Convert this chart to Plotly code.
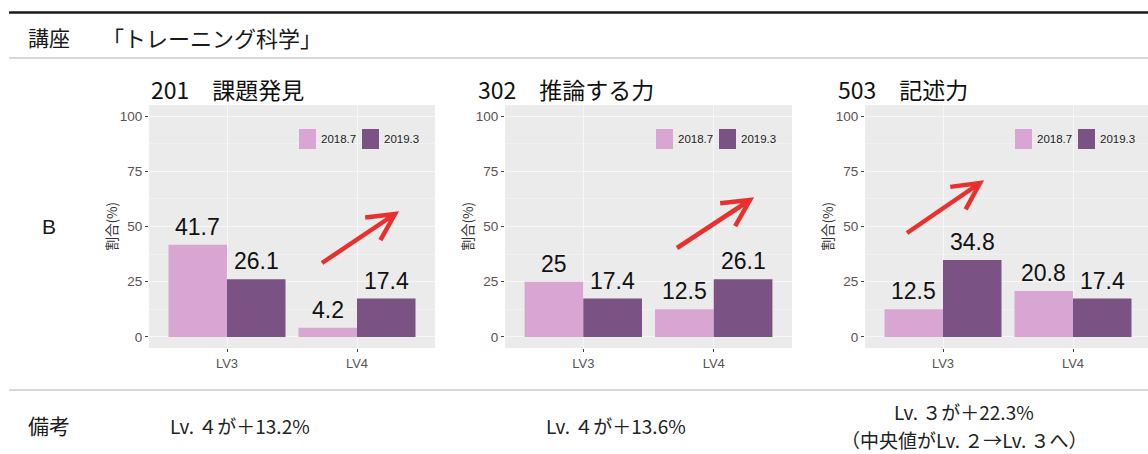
import math
import plotly.graph_objects as go

W, H = 1148, 454

# ---- data -------------------------------------------------------------
levels = ["LV3", "LV4"]
series_names = ["2018.7", "2019.3"]
panel_titles = ["201　課題発見", "302　推論する力", "503　記述力"]

kadai_2018_7 = [41.7, 4.2]
kadai_2019_3 = [26.1, 17.4]
suiron_2018_7 = [25, 12.5]
suiron_2019_3 = [17.4, 26.1]
kijutsu_2018_7 = [12.5, 20.8]
kijutsu_2019_3 = [34.8, 17.4]

header_label = "講座"
course_name = "「トレーニング科学」"
row_label = "B"
notes_label = "備考"
notes = [
    ["Lv. ４が＋13.2%"],
    ["Lv. ４が＋13.6%"],
    ["Lv. ３が＋22.3%", "（中央値がLv. ２→Lv. ３へ）"],
]

# ---- styling ----------------------------------------------------------
colors = ["#d9a6d3", "#7a5283"]
panel_bg = "#ebebeb"
arrow_color = "#e8312f"
latin = "Liberation Sans, Arial, sans-serif"
cjk = "Noto Sans CJK JP, sans-serif"

# panel pixel boxes (left, right) and common vertical extent
panel_px = [(149, 435), (505, 792), (865, 1151)]
top_px, bottom_px = 105, 348
title_left_px = [149, 476, 836]
note_center_px = [240, 616, 964]
arrows_px = [((322, 263), (395, 214)),
             ((677, 248), (750, 200)),
             ((907, 233), (980, 183))]


def fx(px):
    return px / W


def fy(py):
    return 1 - py / H


panel_data = [
    (kadai_2018_7, kadai_2019_3),
    (suiron_2018_7, suiron_2019_3),
    (kijutsu_2018_7, kijutsu_2019_3),
]

fig = go.Figure()
annotations = []
shapes = []

bar_w = 0.45
cat_pos = [i + 1 for i in range(len(levels))]

for p, (vals_a, vals_b) in enumerate(panel_data):
    n = "" if p == 0 else str(p + 1)
    xa, ya = "x" + n, "y" + n
    left, right = panel_px[p]
    vis_right = min(right, W)
    x_lo, x_hi = 0.4, 2.6
    x_hi_vis = x_lo + (x_hi - x_lo) * (vis_right - left) / (right - left)

    for s, vals in enumerate((vals_a, vals_b)):
        xs = [c + (s - 0.5) * bar_w for c in cat_pos]
        fig.add_trace(go.Bar(
            x=xs, y=vals, width=bar_w, name=series_names[s],
            marker=dict(color=colors[s], line=dict(width=0)),
            xaxis=xa, yaxis=ya, showlegend=False, hoverinfo="skip",
        ))
        for xv, v in zip(xs, vals):
            annotations.append(dict(
                x=xv, y=v, xref=xa, yref=ya, text=f"{v:g}",
                showarrow=False, yanchor="bottom", yshift=3,
                font=dict(family=latin, size=23, color="#111111"),
            ))

    axis_key = "xaxis" + n
    yaxis_key = "yaxis" + n
    fig.update_layout(**{
        axis_key: dict(
            domain=[fx(left), fx(vis_right)], range=[x_lo, x_hi_vis],
            anchor=ya, tickvals=cat_pos, ticktext=levels,
            ticks="outside", ticklen=3, tickcolor="#444444", tickwidth=1,
            tickfont=dict(family=latin, size=13, color="#555555"),
            showgrid=True, gridcolor="#f7f7f7", gridwidth=1.4,
            zeroline=False, showline=False, fixedrange=True,
        ),
        yaxis_key: dict(
            domain=[fy(bottom_px), fy(top_px)], range=[-5, 105],
            anchor=xa, tickvals=[0, 25, 50, 75, 100],
            ticks="outside", ticklen=3, tickcolor="#444444", tickwidth=1,
            tickfont=dict(family=latin, size=13.5, color="#5c5050"),
            showgrid=True, gridcolor="#f7f7f7", gridwidth=1.4,
            minor=dict(tickvals=[12.5, 37.5, 62.5, 87.5], showgrid=True,
                       gridcolor="#f1f1f1", gridwidth=0.7),
            zeroline=False, showline=False, fixedrange=True,
        ),
    })

    # panel background
    shapes.append(dict(type="rect", xref="paper", yref="paper", layer="below",
                       x0=fx(left), x1=fx(vis_right), y0=fy(bottom_px), y1=fy(top_px),
                       fillcolor=panel_bg, line=dict(width=0)))

    # panel title
    annotations.append(dict(
        x=fx(title_left_px[p]), y=fy(89), xref="paper", yref="paper",
        text=panel_titles[p], showarrow=False, xanchor="left", yanchor="middle",
        font=dict(family=cjk, size=23, color="#111111"),
    ))

    # y-axis title
    annotations.append(dict(
        x=fx(left - 39), y=fy((top_px + bottom_px) / 2), xref="paper", yref="paper",
        text="割合(%)", textangle=-90, showarrow=False,
        xanchor="center", yanchor="middle",
        font=dict(family=cjk, size=13.5, color="#333333"),
    ))

    # legend keys
    lx0 = right - 136
    for s, name in enumerate(series_names):
        sx = lx0 + 63 * s
        shapes.append(dict(type="rect", xref="paper", yref="paper",
                           x0=fx(sx), x1=fx(sx + 17), y0=fy(149), y1=fy(129),
                           fillcolor=colors[s], line=dict(width=0)))
        annotations.append(dict(
            x=fx(sx + 20), y=fy(139), xref="paper", yref="paper", text=name,
            showarrow=False, xanchor="left", yanchor="middle",
            font=dict(family=latin, size=11.5, color="#222222"),
        ))

    # trend arrow
    (tx, ty), (hx, hy) = arrows_px[p]
    ang = math.atan2(ty - hy, tx - hx)
    wing, spread = 30, math.radians(27)
    w1 = (hx + wing * math.cos(ang + spread), hy + wing * math.sin(ang + spread))
    w2 = (hx + wing * math.cos(ang - spread), hy + wing * math.sin(ang - spread))
    path = (f"M {fx(tx)},{fy(ty)} L {fx(hx)},{fy(hy)} "
            f"M {fx(w1[0])},{fy(w1[1])} L {fx(hx)},{fy(hy)} L {fx(w2[0])},{fy(w2[1])}")
    shapes.append(dict(type="path", xref="paper", yref="paper", path=path,
                       line=dict(color=arrow_color, width=4.5)))

    # note under the panel
    lines = notes[p]
    ys = [425] if len(lines) == 1 else [411, 439]
    for txt, yy in zip(lines, ys):
        annotations.append(dict(
            x=fx(note_center_px[p]), y=fy(yy),
            xref="paper", yref="paper", text=txt, showarrow=False,
            xanchor="center", yanchor="middle", borderpad=0,
            font=dict(family=cjk, size=19, color="#222222"),
        ))

# table rules
shapes.append(dict(type="line", xref="paper", yref="paper",
                   x0=fx(9), x1=1, y0=fy(12.5), y1=fy(12.5),
                   line=dict(color="#1a1a1a", width=2.5)))
for yy in (58, 390):
    shapes.append(dict(type="line", xref="paper", yref="paper",
                       x0=fx(9), x1=1, y0=fy(yy), y1=fy(yy),
                       line=dict(color="#d8d8d8", width=2)))

# row headers
annotations.append(dict(x=fx(26), y=fy(37), xref="paper", yref="paper",
                        text=header_label, showarrow=False, xanchor="left",
                        yanchor="middle", font=dict(family=cjk, size=21, color="#1a1a1a")))
annotations.append(dict(x=fx(100), y=fy(37), xref="paper", yref="paper",
                        text=course_name, showarrow=False, xanchor="left",
                        yanchor="middle", font=dict(family=cjk, size=22, color="#1a1a1a")))
annotations.append(dict(x=fx(49), y=fy(226), xref="paper", yref="paper",
                        text=row_label, showarrow=False, xanchor="center",
                        yanchor="middle", font=dict(family=latin, size=21, color="#1a1a1a")))
annotations.append(dict(x=fx(26), y=fy(425), xref="paper", yref="paper",
                        text=notes_label, showarrow=False, xanchor="left",
                        yanchor="middle", font=dict(family=cjk, size=21, color="#1a1a1a")))

fig.update_layout(
    width=W, height=H,
    margin=dict(l=0, r=0, t=0, b=0),
    paper_bgcolor="white", plot_bgcolor=panel_bg,
    barmode="overlay",
    shapes=shapes, annotations=annotations,
    showlegend=False,
)

fig.write_html("out.html", config={"displayModeBar": False})
